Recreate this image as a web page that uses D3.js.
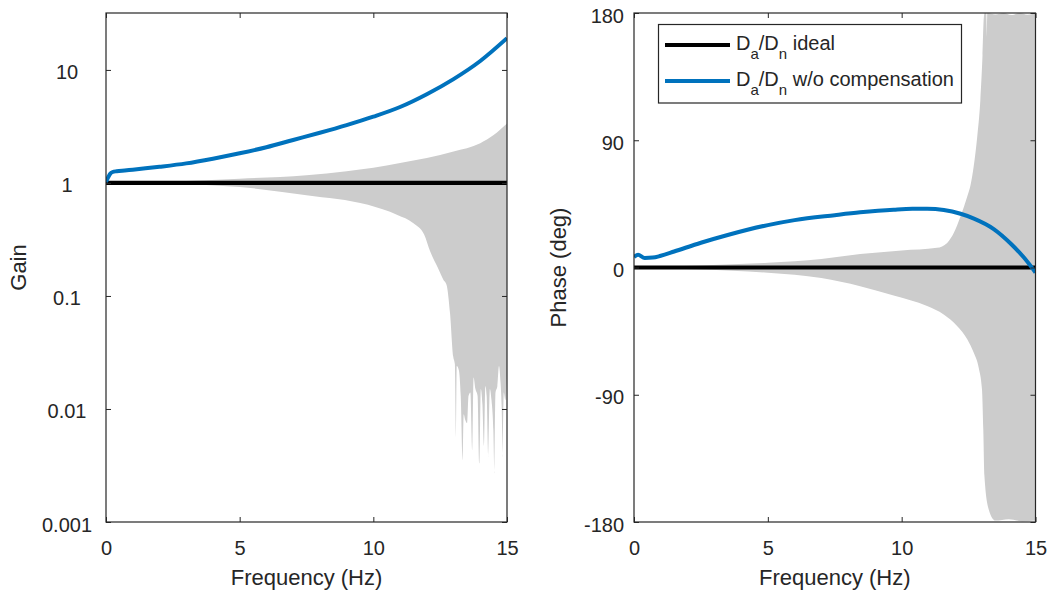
<!DOCTYPE html>
<html>
<head>
<meta charset="utf-8">
<script src="https://cdn.jsdelivr.net/npm/d3@7"></script>
<style>
body { margin: 0; background: #fff; }
text { font-family: "Liberation Sans", Arial, Helvetica, sans-serif; fill: #262626; }
</style>
</head>
<body>
<script>
var width = 1050
var height = 595
var band_color = "#cccccc"
var axis_color = "#262626"

// ticks
var freqTicks = [0, 5, 10, 15]
var gainTicks = [0.001, 0.01, 0.1, 1, 10]
var gainTickLabels = ["0.001", "0.01", "0.1", "1", "10"]
var phaseTicks = [-180, -90, 0, 90, 180]
var phaseTickLabels = ["-180", "-90", "0", "90", "180"]

// legend
var seriesNames = ["D_a/D_n ideal", "D_a/D_n w/o compensation"]
var seriesColors = ["#000000", "#0072BD"]

// ideal response
var idealFreq = [0, 15]
var idealGain = [1, 1]
var idealPhase = [0, 0]

// response without compensation
var compGainFreq = [0, 0.08, 0.15, 0.25, 0.4, 0.7, 1, 2, 3, 4, 5, 6, 7, 8, 9, 10, 11, 12, 13, 14, 15]
var compGain = [1.02, 1.12, 1.2, 1.25, 1.27, 1.29, 1.31, 1.39, 1.49, 1.64, 1.83, 2.07, 2.4, 2.78, 3.25, 3.86, 4.7, 6.1, 8.3, 12.0, 19.1]
var compPhaseFreq = [0, 0.15, 0.4, 0.7, 1, 1.5, 2.5, 3.5, 5, 6, 7.5, 8.45, 9.7, 10.4, 10.95, 12.2, 12.7, 13.44, 14.07, 14.56, 15]
var compPhase = [7.5, 9, 6.8, 7, 8.3, 11.3, 17.5, 23, 30, 33.5, 37, 39, 40.9, 41.5, 41.5, 38, 34.6, 27.2, 17, 7.2, -3.5]

// uncertainty band, gain
var gainUpperFreq = [0, 1, 2.5, 5, 7.5, 9, 10, 11, 12, 13, 14, 14.5, 15]
var gainUpper = [1, 1.005, 1.03, 1.09, 1.17, 1.27, 1.36, 1.5, 1.66, 1.9, 2.25, 2.65, 3.35]
var gainLowerFreq = [0, 1, 2.5, 5, 7.5, 9.8, 10.9, 11.5, 11.9, 12.12, 12.4, 12.62, 12.74, 12.87, 12.99,
    13.05, 13.09, 13.12, 13.2, 13.27, 13.34, 13.38, 13.44, 13.51, 13.56, 13.63, 13.7, 13.75, 13.82, 13.9,
    13.97, 14.02, 14.08, 14.14, 14.19, 14.24, 14.3, 14.36, 14.42, 14.49, 14.53, 14.57, 14.64, 14.7, 14.76,
    14.8, 14.84, 14.88, 14.94, 15]
var gainLower = [1, 0.998, 0.98, 0.92, 0.78, 0.64, 0.52, 0.44, 0.35, 0.25, 0.18, 0.139, 0.125, 0.07, 0.029,
    0.025, 0.0055, 0.024, 0.022, 0.013, 0.0035, 0.009, 0.008, 0.0075, 0.013, 0.014, 0.0043, 0.019, 0.015, 0.013,
    0.0033, 0.015, 0.011, 0.0047, 0.016, 0.013, 0.0038, 0.015, 0.012, 0.0065, 0.0027, 0.014, 0.016, 0.024, 0.017,
    0.0105, 0.0038, 0.014, 0.012, 0.02]

// uncertainty band, phase
var phaseUpperFreq = [0, 2.5, 5, 7, 8.45, 10, 11.32, 11.7, 11.95, 12.2, 12.45, 12.57, 12.69, 12.82, 12.94, 13.02, 13.07,
    13.1, 13.16, 13.18, 13.2, 13.5, 13.8, 14.1, 14.4, 14.7, 15]
var phaseUpper = [0, 1.5, 3.4, 6, 9.5, 12, 13.9, 17.4, 24.5, 36.2, 50.3, 58, 71.5, 92, 118.6, 150, 177,
    180, 180, 162, 180, 179, 180, 178.5, 180, 178.8, 180]
var phaseLowerFreq = [0, 2.5, 5, 7, 8.45, 9.7, 10.95, 11.57, 12.07, 12.45, 12.69, 12.88, 13.0, 13.05, 13.09, 13.25,
    13.5, 14, 14.5, 15]
var phaseLower = [0, -1.5, -3.7, -7.5, -13.2, -19.8, -27.3, -33.2, -41.4, -50.8, -60.2, -71, -86, -115, -147, -171,
    -179, -178, -179.5, -179]

var svg = d3.select("body").append("svg")
    .attr("width", width)
    .attr("height", height)

svg.append("rect").attr("width", width).attr("height", height).attr("fill", "#fff")

function zip(f, v) {
    return f.map(function(d, i) { return [d, v[i]] })
}

function draw_panel(id, x, y, base, upperF, upper, lowerF, lower, idealV, compF, compV) {
    var x0 = x.range()[0], x1 = x.range()[1]
    var y0 = y.range()[1], y1 = y.range()[0]

    svg.append("clipPath").attr("id", id)
        .append("rect").attr("x", x0).attr("y", y0).attr("width", x1 - x0).attr("height", y1 - y0)

    var g = svg.append("g").attr("clip-path", "url(#" + id + ")")

    // band drawn as two halves meeting at the ideal value
    var area = d3.area()
        .x(function(d) { return x(d[0]) })
        .y0(y(base))
        .y1(function(d) { return y(d[1]) })
        .curve(d3.curveMonotoneX)

    g.append("path").datum(zip(upperF, upper)).attr("d", area).attr("fill", band_color)
    g.append("path").datum(zip(lowerF, lower)).attr("d", area).attr("fill", band_color)

    var line = d3.line()
        .x(function(d) { return x(d[0]) })
        .y(function(d) { return y(d[1]) })
        .curve(d3.curveMonotoneX)

    g.append("path").datum(zip(idealFreq, idealV)).attr("d", line)
        .attr("fill", "none").attr("stroke", seriesColors[0]).attr("stroke-width", 4.2)
    g.append("path").datum(zip(compF, compV)).attr("d", line)
        .attr("fill", "none").attr("stroke", seriesColors[1]).attr("stroke-width", 4)
}

function draw_axes(x, y, yTicks, yLabels, labelX, labelAnchor, xTitle, yTitle, yTitleX) {
    var x0 = x.range()[0], x1 = x.range()[1]
    var y0 = y.range()[1], y1 = y.range()[0]

    var bottom = svg.append("g").attr("transform", "translate(0," + y1 + ")")
        .call(d3.axisBottom(x).tickValues(freqTicks).tickSizeInner(-5).tickSizeOuter(0))
    bottom.selectAll("text").attr("y", 33).attr("dy", null).style("font-size", "20px")

    svg.append("g").attr("transform", "translate(0," + y0 + ")")
        .call(d3.axisTop(x).tickValues(freqTicks).tickSizeInner(-5).tickSizeOuter(0).tickFormat(""))

    var left = svg.append("g").attr("transform", "translate(" + x0 + ",0)")
        .call(d3.axisLeft(y).tickValues(yTicks).tickSizeInner(-5).tickSizeOuter(0)
            .tickFormat(function(d, i) { return yLabels[i] }))
    left.selectAll("text").attr("x", labelX - x0).attr("y", 9).attr("dy", null)
        .attr("text-anchor", labelAnchor).style("font-size", "20px")

    svg.append("g").attr("transform", "translate(" + x1 + ",0)")
        .call(d3.axisRight(y).tickValues(yTicks).tickSizeInner(-5).tickSizeOuter(0).tickFormat(""))

    svg.selectAll(".domain").remove()
    svg.selectAll(".tick line").attr("stroke", axis_color)
    svg.selectAll(".tick text").attr("fill", axis_color).style("font-family", "Liberation Sans, Arial, sans-serif")

    svg.append("rect")
        .attr("x", x0).attr("y", y0).attr("width", x1 - x0).attr("height", y1 - y0)
        .attr("fill", "none").attr("stroke", axis_color).attr("stroke-width", 1.2)

    svg.append("text")
        .attr("x", (x0 + x1) / 2).attr("y", 585)
        .attr("text-anchor", "middle").style("font-size", "22px")
        .text(xTitle)

    svg.append("text")
        .attr("transform", "translate(" + yTitleX + "," + ((y0 + y1) / 2) + ") rotate(-90)")
        .attr("text-anchor", "middle").style("font-size", "22px")
        .text(yTitle)
}

var xGain = d3.scaleLinear().domain([0, 15]).range([106, 507])
var yGain = d3.scaleLog().domain([0.001, 31.9]).range([522, 13])
var xPhase = d3.scaleLinear().domain([0, 15]).range([634, 1035.5])
var yPhase = d3.scaleLinear().domain([-180, 180]).range([522, 13])

draw_panel("clipGain", xGain, yGain, 1, gainUpperFreq, gainUpper, gainLowerFreq, gainLower, idealGain, compGainFreq, compGain)
draw_panel("clipPhase", xPhase, yPhase, 0, phaseUpperFreq, phaseUpper, phaseLowerFreq, phaseLower, idealPhase, compPhaseFreq, compPhase)

draw_axes(xGain, yGain, gainTicks, gainTickLabels, 67, "middle", "Frequency (Hz)", "Gain", 26)
draw_axes(xPhase, yPhase, phaseTicks, phaseTickLabels, 624, "end", "Frequency (Hz)", "Phase (deg)", 566)

// legend
var legend = svg.append("g")
legend.append("rect")
    .attr("x", 658.5).attr("y", 24.5).attr("width", 303).attr("height", 78.5)
    .attr("fill", "#fff").attr("stroke", axis_color).attr("stroke-width", 1.2)

seriesNames.forEach(function(name, i) {
    var ly = 45 + i * 36
    legend.append("line")
        .attr("x1", 665).attr("x2", 730).attr("y1", ly).attr("y2", ly)
        .attr("stroke", seriesColors[i]).attr("stroke-width", i == 0 ? 4.2 : 4)

    var t = legend.append("text").attr("x", 736).attr("y", ly + 4.5).style("font-size", "20px")
    var parts = name.split(/(_\w)/)
    var shifted = false
    parts.forEach(function(p) {
        if (p == "") return
        if (p[0] == "_") {
            t.append("tspan").attr("dy", 9).style("font-size", "15px").text(p.slice(1))
            shifted = true
        } else {
            t.append("tspan").attr("dy", shifted ? -9 : 0).text(p)
            shifted = false
        }
    })
})
</script>
</body>
</html>
